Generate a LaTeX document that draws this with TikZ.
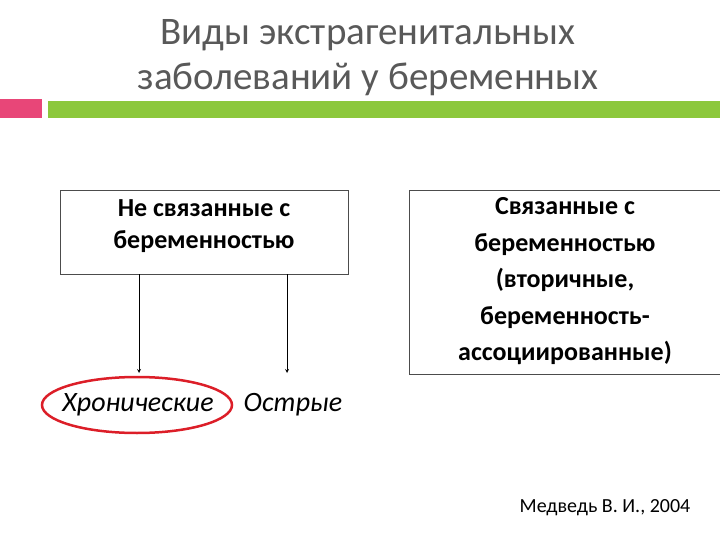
\documentclass[tikz,border=0pt]{standalone}
\usepackage{fontspec}
\setmainfont{Carlito}
\usetikzlibrary{shapes.geometric}
\begin{document}
\begin{tikzpicture}[x=1pt,y=-1pt,
 box/.style={draw=black!70,line width=0.6pt,fill=white},
 lbl/.style={font=\fontsize{26}{32}\selectfont\bfseries,align=center}]
\useasboundingbox (0,0) rectangle (720,540);
\node[align=center,font=\fontsize{39}{45}\selectfont,text=black!65] (title) at (368,58) {Виды экстрагенитальных\\заболеваний у беременных};
\fill[fill={rgb,255:red,232;green,70;blue,120}] (0,99) rectangle (42,118);
\fill[fill={rgb,255:red,140;green,200;blue,60}] (48,101) rectangle (720,118);
\node[box,minimum width=288,minimum height=84,anchor=north west] (b1) at (60,190) {};
\node[lbl,anchor=north] (t1) at (204,196) {Не связанные с\\беременностью};
\node[box,minimum width=312,minimum height=184,anchor=north west] (b2) at (409,190) {};
\node[lbl,anchor=north,font=\fontsize{26}{36.5}\selectfont\bfseries] (t2) at (565,194) {Связанные с\\беременностью\\(вторичные,\\беременность-\\ассоциированные)};
\coordinate (a1) at (139,274); \coordinate (a2) at (287,274);
\coordinate (e1) at (139,373); \coordinate (e2) at (287,373);
\draw[-stealth,line width=0.8pt] (a1) -- (e1);
\draw[-stealth,line width=0.8pt] (a2) -- (e2);
\node[draw={rgb,255:red,220;green,30;blue,40},line width=2.5pt,ellipse,minimum width=190,minimum height=56] (el) at (137,405) {};
\node[font=\fontsize{28}{30}\selectfont\itshape] (c1) at (138,405) {Хронические};
\node[font=\fontsize{28}{30}\selectfont\itshape] (c2) at (293,405) {Острые};
\node[font=\fontsize{20}{22}\selectfont] (cite) at (605,508) {Медведь В. И., 2004};
\end{tikzpicture}
\end{document}
